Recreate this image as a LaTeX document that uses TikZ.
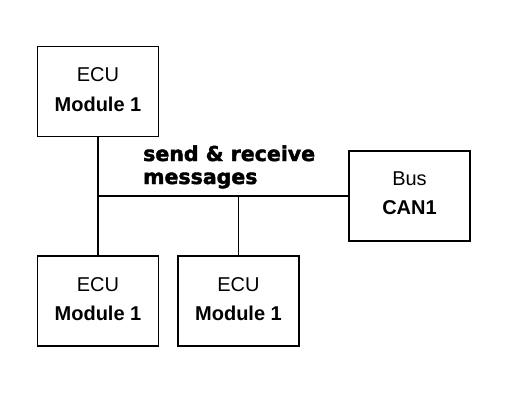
\documentclass[tikz,border=0pt]{standalone}
\usepackage{fontspec}
\setmainfont{Liberation Sans}
\newfontfamily\heavyfont[BoldFont={DejaVu Sans Bold},BoldFeatures={FakeBold=2}]{DejaVu Sans}
\begin{document}
\begin{tikzpicture}[x=1pt,y=-1pt,
  ecubox/.style={draw,line width=1.4pt,minimum width=121pt,minimum height=90pt,inner sep=0pt},
  boxtext/.style={align=center,inner sep=0pt,font=\fontsize{20}{29.5}\selectfont},
  conn/.style={line width=1.4pt}]
\useasboundingbox (0,0) rectangle (518,406);
\node[ecubox] (top) at (98,91.5) {};
\node[ecubox] (bus) at (409.5,196) {};
\node[ecubox] (bl) at (98,301) {};
\node[ecubox] (bm) at (238.5,301) {};
\node[boxtext] (ttop) at ([yshift=2pt]top.center) {ECU\\\textbf{Module 1}};
\node[boxtext] (tbus) at ([yshift=3pt]bus.center) {Bus\\\textbf{CAN1}};
\node[boxtext] (tbl) at ([yshift=2pt]bl.center) {ECU\\\textbf{Module 1}};
\node[boxtext] (tbm) at ([yshift=2pt]bm.center) {ECU\\\textbf{Module 1}};
\coordinate (j) at (top.south |- bus.west);
\draw[conn] (top.south) -- (bl.north);
\draw[conn] (j) -- (bus.west);
\draw[conn] (bm.north) -- (bm.north |- j);
\node[anchor=base west,align=left,inner sep=0pt,font=\heavyfont\bfseries\fontsize{20.5}{23}\selectfont] (msg) at (143,184) {send \& receive\\messages};
\end{tikzpicture}
\end{document}
